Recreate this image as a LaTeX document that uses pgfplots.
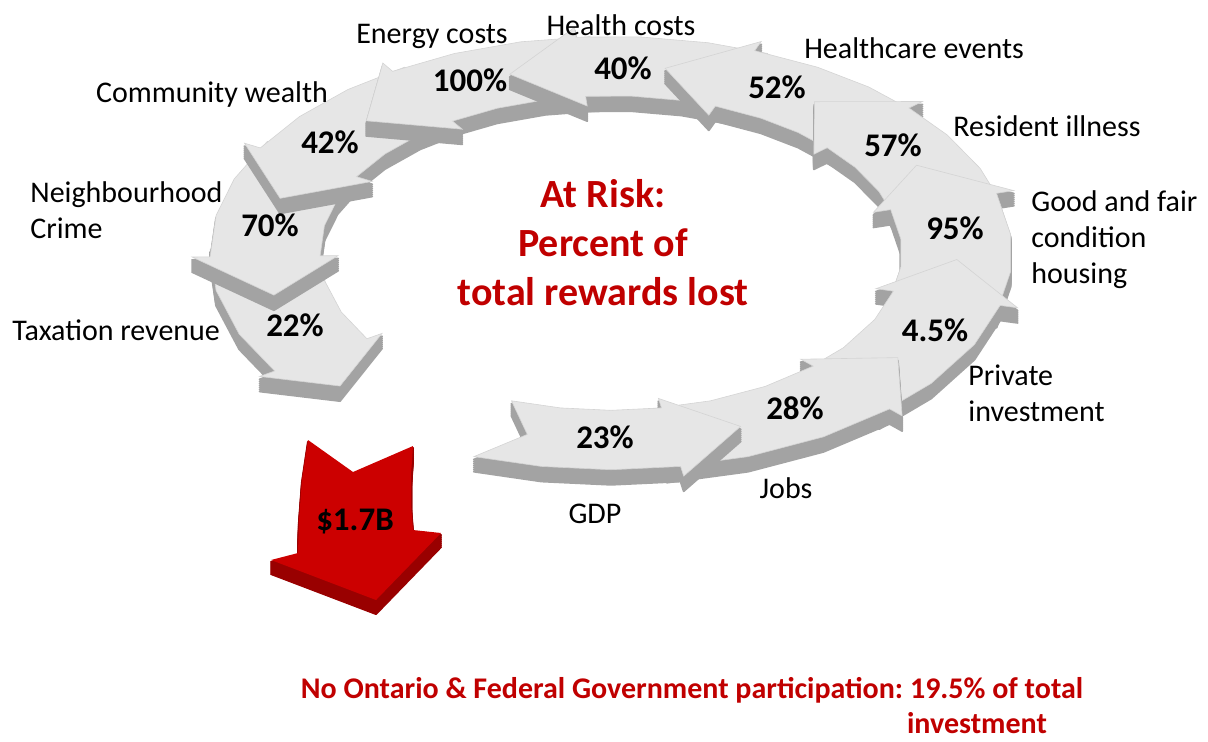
\documentclass[border=0pt]{standalone}
\usepackage{pgfplots}
\pgfplotsset{compat=1.18}
\usepackage{pgfplotstable}
\usepackage{fontspec}
\setmainfont{Carlito}
\frenchspacing
\definecolor{face}{HTML}{E6E6E6}
\definecolor{faceedge}{HTML}{D4D4D4}
\definecolor{side}{HTML}{A3A3A3}
\definecolor{riskred}{HTML}{C00000}
\definecolor{redface}{HTML}{CC0000}
\definecolor{redside}{HTML}{990000}

\pgfplotstableread{
x y
473.9 456.6
541.4 466.4
611.0 469.7
680.6 466.4
683.7 476.1
740.6 426.4
658.4 398.4
661.5 407.9
611.0 410.3
560.5 407.9
511.5 400.8
527.3 434.4
}\arrA
\pgfplotstableread{
x y
666.8 467.6
748.1 456.6
823.5 436.8
889.6 408.9
902.1 415.9
897.8 357.6
800.7 359.2
813.2 366.1
765.2 386.4
710.5 400.8
651.5 408.8
}\arrB
\pgfplotstableread{
x y
879.3 414.0
931.2 383.4
974.4 344.6
1000.1 305.4
1017.6 307.8
956.8 259.5
875.9 288.7
893.4 291.1
874.7 319.5
843.4 347.7
805.7 369.9
}\arrC
\pgfplotstableread{
x y
996.5 312.7
1010.5 271.9
1010.5 234.1
996.5 193.3
1013.8 190.6
916.5 165.2
873.4 212.3
890.7 209.6
900.9 239.3
900.9 266.7
890.7 296.4
}\arrD
\pgfplotstableread{
x y
1000.1 200.6
980.1 168.3
947.3 135.0
909.0 108.0
922.4 101.5
814.4 101.7
813.9 154.2
827.2 147.7
855.1 167.3
878.9 191.5
893.4 214.9
}\arrE
\pgfplotstableread{
x y
918.2 113.7
868.8 87.0
817.5 67.2
754.7 50.7
761.2 41.5
665.1 68.3
708.8 115.2
715.3 106.1
760.9 118.2
798.1 132.5
833.9 151.9
}\arrF
\pgfplotstableread{
x y
767.7 53.5
708.0 42.7
639.0 36.8
576.0 37.1
574.5 27.4
509.8 74.2
587.2 106.0
585.6 96.3
631.3 96.1
681.4 100.4
724.7 108.2
}\arrG
\pgfplotstableread{
x y
590.0 36.6
520.8 41.8
454.3 53.5
392.6 71.3
382.8 63.0
366.3 120.8
462.3 129.2
452.5 121.1
497.3 108.2
545.5 99.7
595.8 95.9
}\arrH
\pgfplotstableread{
x y
404.5 67.2
347.9 89.5
299.4 116.6
260.3 147.9
244.5 143.2
280.1 198.3
372.2 181.4
356.5 176.7
384.9 154.0
420.1 134.3
461.1 118.2
}\arrI
\pgfplotstableread{
x y
267.3 141.4
234.2 178.9
216.1 215.4
210.1 256.8
192.1 257.0
273.9 295.1
338.1 255.6
320.1 255.8
324.4 225.7
337.5 199.2
361.6 172.0
}\arrJ
\pgfplotstableread{
x y
210.1 249.2
216.1 290.6
239.2 334.2
274.7 371.0
259.6 376.4
340.0 386.0
382.0 333.4
366.9 338.7
341.2 311.9
324.4 280.3
320.1 250.2
}\arrK
\pgfplotstableread{
x y
308 440
353 472
413 446
411 475
411 505
413 530
441 533
376 600
271 560
298 553
299 520
302 480
}\arrRed

\pgfplotsset{sidecopy/.style={fill=side, draw=side, line width=1pt, line join=round, forget plot}}
\newcommand{\grayarrow}[1]{%
  \addplot[sidecopy] table[y expr=\thisrow{y}+15] {#1} -- cycle;
  \addplot[sidecopy] table[y expr=\thisrow{y}+13] {#1} -- cycle;
  \addplot[sidecopy] table[y expr=\thisrow{y}+11] {#1} -- cycle;
  \addplot[sidecopy] table[y expr=\thisrow{y}+9] {#1} -- cycle;
  \addplot[sidecopy] table[y expr=\thisrow{y}+7] {#1} -- cycle;
  \addplot[sidecopy] table[y expr=\thisrow{y}+5] {#1} -- cycle;
  \addplot[sidecopy] table[y expr=\thisrow{y}+3] {#1} -- cycle;
  \addplot[fill=face, draw=faceedge, line width=0.3pt, forget plot] table {#1} -- cycle;
}
\pgfplotsset{redcopy/.style={fill=redside, draw=redside, line width=1pt, line join=round, forget plot}}

\begin{document}
\begin{tikzpicture}
\begin{axis}[
  width=604pt, height=370.5pt, scale only axis,
  xmin=0, xmax=1208, ymin=0, ymax=741, y dir=reverse,
  hide axis, clip=false,
]
\addplot[draw=none, forget plot] coordinates {(0,0) (1208,741)};
\grayarrow{\arrK}
\grayarrow{\arrJ}
\grayarrow{\arrI}
\grayarrow{\arrH}
\grayarrow{\arrG}
\grayarrow{\arrF}
\grayarrow{\arrE}
\grayarrow{\arrD}
\grayarrow{\arrC}
\grayarrow{\arrB}
\grayarrow{\arrA}
% red arrow
\addplot[redcopy] table[y expr=\thisrow{y}+14] {\arrRed} -- cycle;
\addplot[redcopy] table[y expr=\thisrow{y}+12] {\arrRed} -- cycle;
\addplot[redcopy] table[y expr=\thisrow{y}+10] {\arrRed} -- cycle;
\addplot[redcopy] table[y expr=\thisrow{y}+8] {\arrRed} -- cycle;
\addplot[redcopy] table[y expr=\thisrow{y}+6] {\arrRed} -- cycle;
\addplot[redcopy] table[y expr=\thisrow{y}+4] {\arrRed} -- cycle;
\addplot[redcopy] table[y expr=\thisrow{y}+2] {\arrRed} -- cycle;
\addplot[fill=redface, draw=none, forget plot] table {\arrRed} -- cycle;

% category labels
\begin{scope}[every node/.style={font=\fontsize{15pt}{18pt}\selectfont, inner sep=0pt}]
\node at (axis cs:432,36) {Energy costs};
\node at (axis cs:621,25) {Health costs};
\node at (axis cs:914,48) {Healthcare events};
\node at (axis cs:1047,126) {Resident illness};
\node[anchor=west, align=left] at (axis cs:1031,240) {Good and fair\\condition\\housing};
\node[anchor=west, align=left] at (axis cs:968,393) {Private\\investment};
\node at (axis cs:786,488) {Jobs};
\node at (axis cs:595,514) {GDP};
\node[anchor=west] at (axis cs:12,330) {Taxation revenue};
\node[anchor=west, align=left] at (axis cs:30,210) {Neighbourhood\\Crime};
\node at (axis cs:212,94) {Community wealth};
\end{scope}
% percentages
\begin{scope}[every node/.style={font=\bfseries\fontsize{16.5pt}{19pt}\selectfont, inner sep=0pt}]
\node at (axis cs:605,437) {23\%};
\node at (axis cs:795,408) {28\%};
\node at (axis cs:935,330) {4.5\%};
\node at (axis cs:955,228) {95\%};
\node at (axis cs:893,145) {57\%};
\node at (axis cs:777,87) {52\%};
\node at (axis cs:623,68) {40\%};
\node at (axis cs:470,80) {100\%};
\node at (axis cs:330,142) {42\%};
\node at (axis cs:270,225) {70\%};
\node at (axis cs:295,325) {22\%};
\node at (axis cs:355,522) {\$1.7B};
\end{scope}
\node[font=\bfseries\fontsize{20pt}{24.5pt}\selectfont, text=riskred, align=center, inner sep=0pt] at (axis cs:603,243) {At Risk:\\Percent of\\total rewards lost};
\node[font=\bfseries\fontsize{15pt}{17pt}\selectfont, text=riskred, inner sep=0pt] at (axis cs:692,690) {No Ontario \& Federal Government participation: 19.5\% of total};
\node[font=\bfseries\fontsize{15pt}{17pt}\selectfont, text=riskred, inner sep=0pt] at (axis cs:977,723) {investment};
\end{axis}
\end{tikzpicture}
\end{document}
